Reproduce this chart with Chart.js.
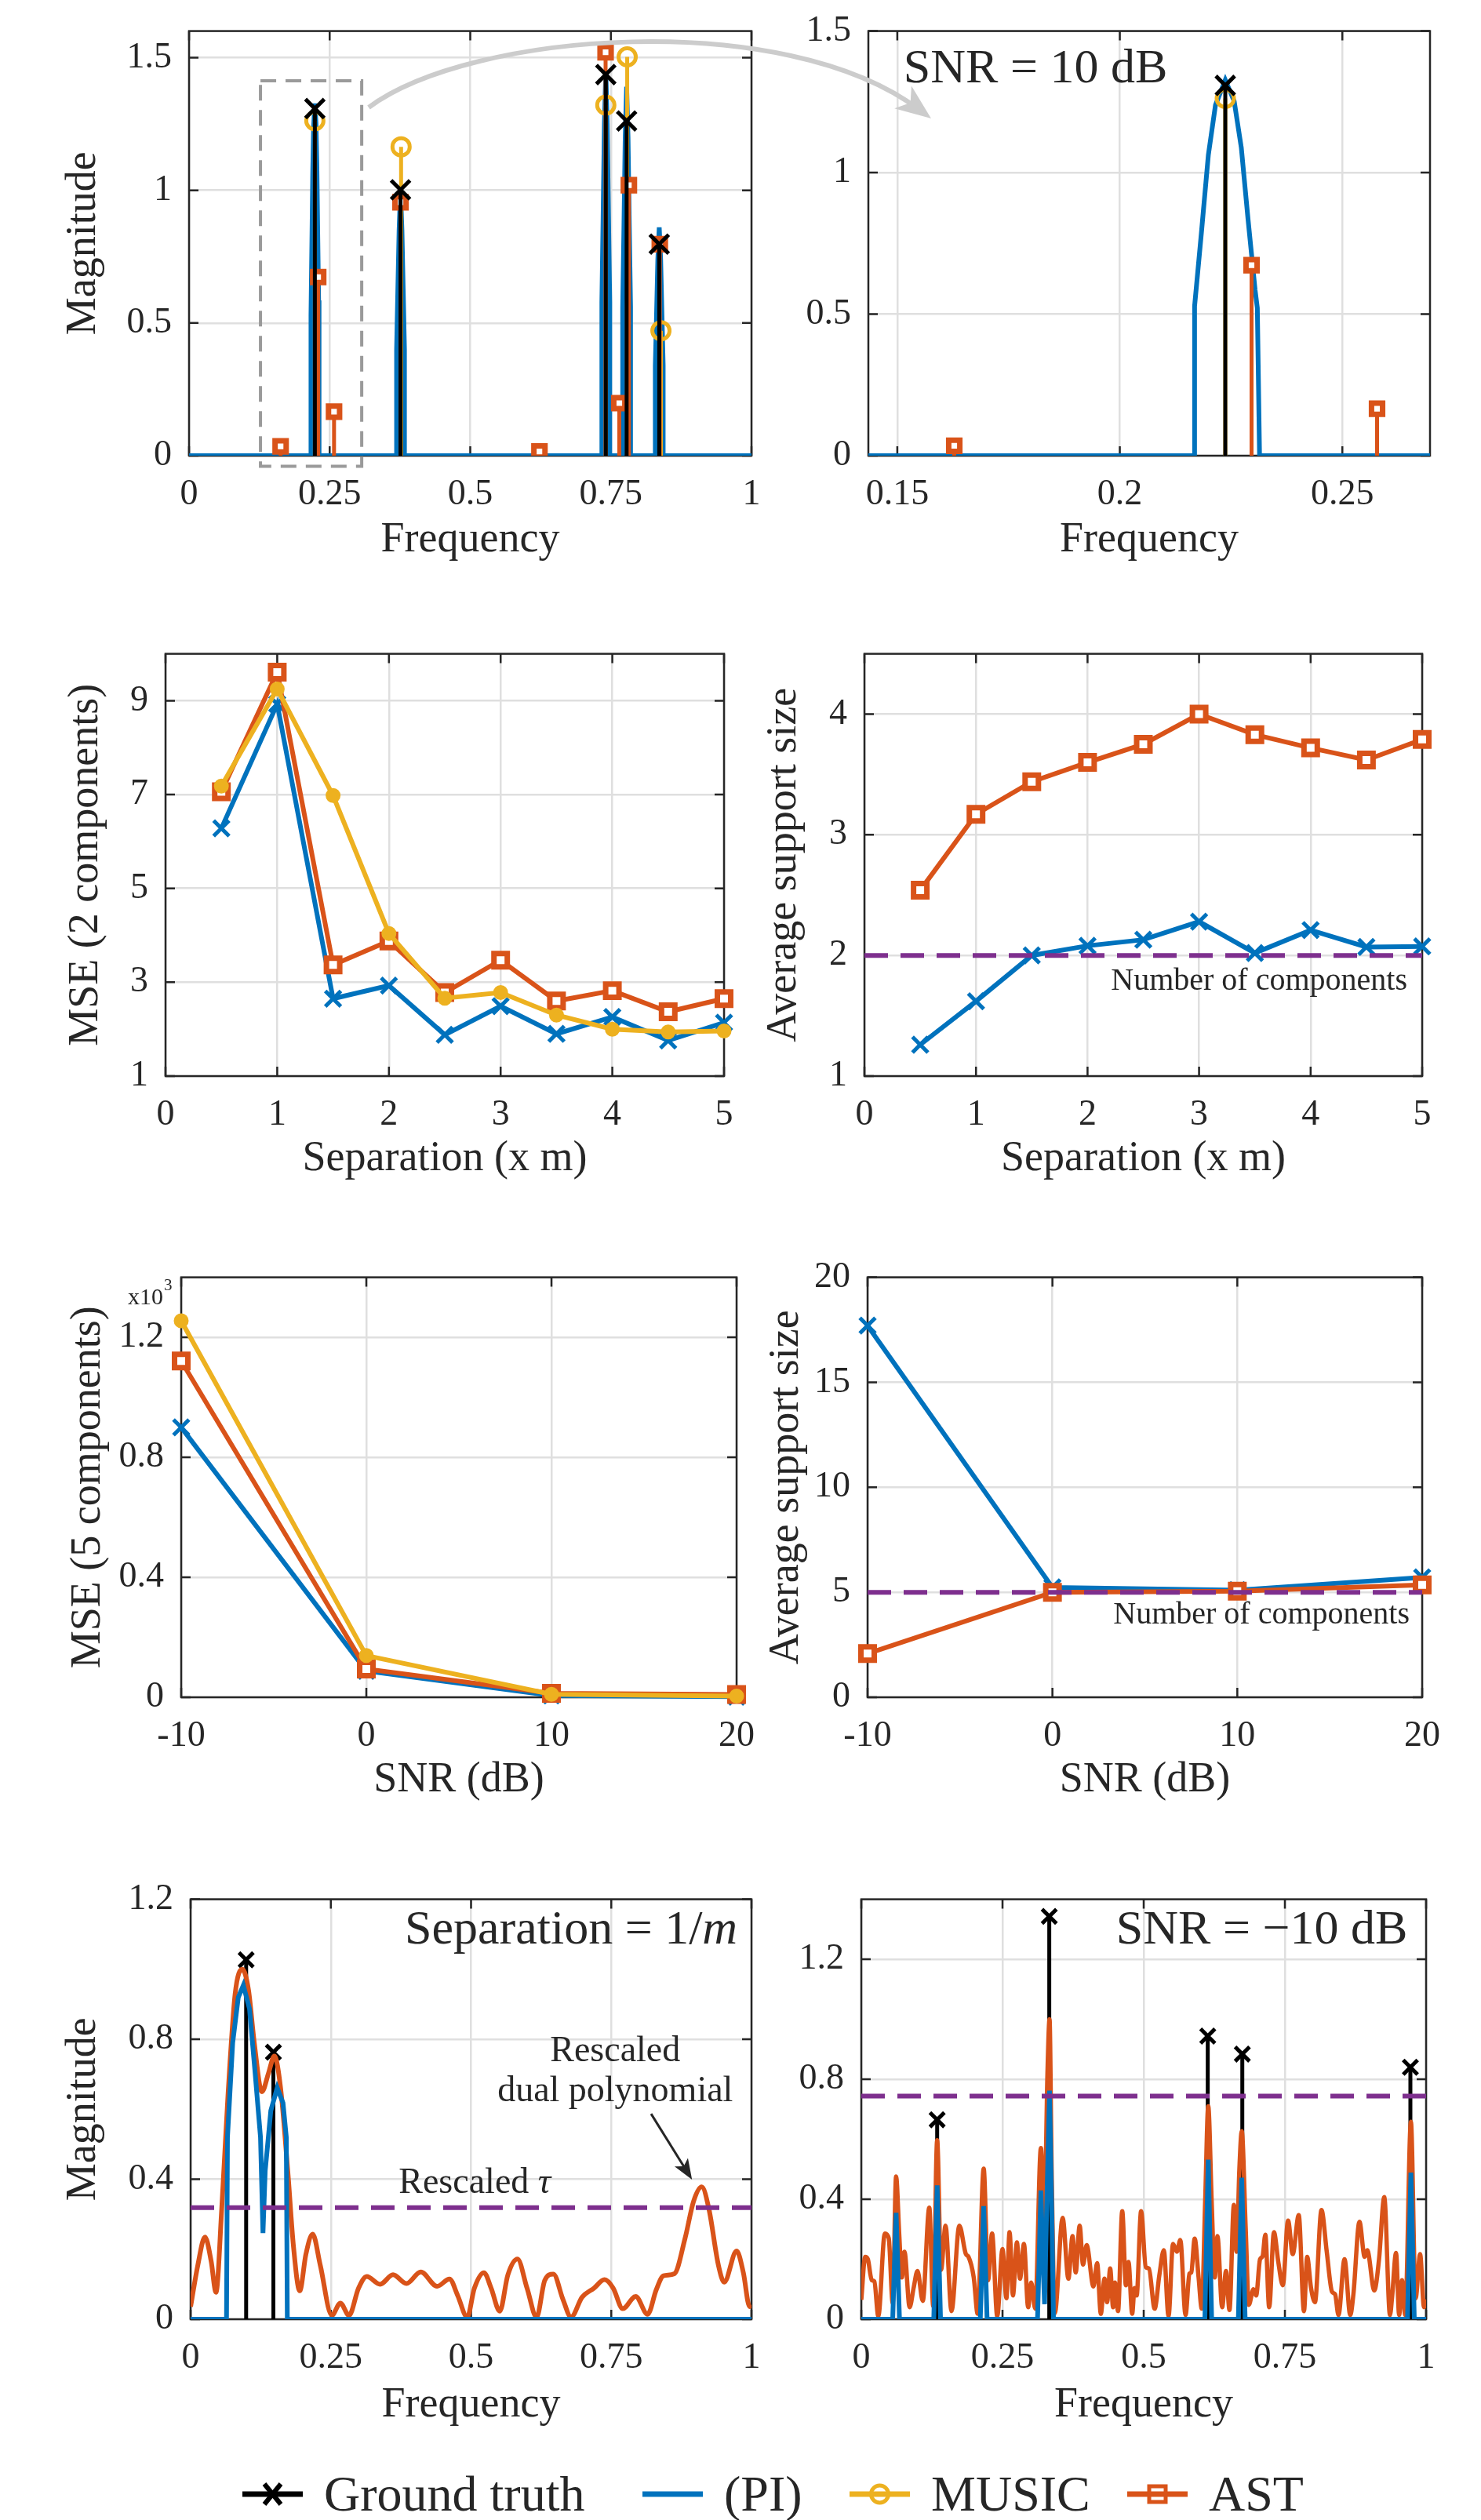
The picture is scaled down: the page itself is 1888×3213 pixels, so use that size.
<!DOCTYPE html>
<html>
<head>
<meta charset="utf-8">
<title>Line spectral estimation comparison</title>
<style>
    body { margin: 0; background: #fff; }
    #page { position: relative; width: 1888px; height: 3213px; overflow: hidden; background: #fff; }
    #page canvas { position: absolute; }
    #arc { left: 0; top: 0; z-index: 5; pointer-events: none; }
    .key { position: absolute; top: 3140px; height: 80px; display: flex; align-items: center;
           font-family: 'Liberation Serif', 'Times New Roman', serif; font-size: 64px; color: #262626; white-space: nowrap; }
    .key svg { margin-right: 27px; }
</style>
</head>
<body>
<div id="page">
    <canvas id="c1"></canvas>
    <canvas id="c2"></canvas>
    <canvas id="c3"></canvas>
    <canvas id="c4"></canvas>
    <canvas id="c5"></canvas>
    <canvas id="c6"></canvas>
    <canvas id="c7"></canvas>
    <canvas id="c8"></canvas>
    <canvas id="arc" width="1888" height="200"></canvas>

    <div class="key" style="left:309px">
        <svg width="77" height="40"><line x1="0" y1="20" x2="77" y2="20" stroke="#000" stroke-width="7"/>
            <line x1="28" y1="7" x2="49" y2="33" stroke="#000" stroke-width="6"/><line x1="28" y1="33" x2="49" y2="7" stroke="#000" stroke-width="6"/></svg>
        Ground truth</div>
    <div class="key" style="left:819px">
        <svg width="77" height="40"><line x1="0" y1="20" x2="77" y2="20" stroke="#0072BD" stroke-width="7"/></svg>
        (PI)</div>
    <div class="key" style="left:1083px">
        <svg width="77" height="40"><line x1="0" y1="20" x2="77" y2="20" stroke="#EDB120" stroke-width="7"/>
            <circle cx="38.5" cy="20" r="11" fill="none" stroke="#EDB120" stroke-width="5"/></svg>
        MUSIC</div>
    <div class="key" style="left:1437px">
        <svg width="77" height="40"><line x1="0" y1="20" x2="77" y2="20" stroke="#D95319" stroke-width="7"/>
            <rect x="28" y="10" width="21" height="20" fill="none" stroke="#D95319" stroke-width="5"/></svg>
        AST</div>
</div>

<script src="https://cdn.jsdelivr.net/npm/chart.js@4.4.1/dist/chart.umd.min.js"></script>
<script>
    // ---- data ----

    // SNR = 10 dB example (top row)
    const gtFreq = [0.2237, 0.376, 0.741, 0.778, 0.836];
    const gtMag = [1.308, 1.002, 1.436, 1.261, 0.797];
    const musicFreq = [0.2237, 0.377, 0.741, 0.779, 0.839];
    const musicMag = [1.262, 1.164, 1.321, 1.503, 0.471];
    const astFreq = [0.1628, 0.2296, 0.2578, 0.376, 0.623, 0.7406, 0.765, 0.782, 0.837];
    const astMag = [0.035, 0.673, 0.166, 0.955, 0.016, 1.52, 0.198, 1.019, 0.797];
    const piFreq10 = [0,
        0.2168, 0.2168, 0.2184, 0.2199, 0.2215, 0.2237, 0.2257, 0.2273, 0.2288, 0.2304, 0.2309, 0.2314,
        0.369, 0.369, 0.3712, 0.3735, 0.376, 0.3785, 0.3808, 0.383, 0.383,
        0.734, 0.734, 0.7362, 0.7385, 0.741, 0.7435, 0.7458, 0.748, 0.748,
        0.771, 0.771, 0.7732, 0.7755, 0.778, 0.7805, 0.7828, 0.785, 0.785,
        0.829, 0.829, 0.8312, 0.8335, 0.836, 0.8385, 0.8408, 0.843, 0.843,
        1];
    const piMag10 = [0,
        0, 0.528, 0.799, 1.063, 1.239, 1.327, 1.252, 1.088, 0.837, 0.585, 0.522, 0,
        0, 0.40, 0.62, 0.85, 1.0, 0.85, 0.62, 0.40, 0,
        0, 0.58, 0.9, 1.25, 1.45, 1.25, 0.9, 0.58, 0,
        0, 0.56, 0.86, 1.2, 1.39, 1.2, 0.86, 0.56, 0,
        0, 0.34, 0.53, 0.74, 0.86, 0.74, 0.53, 0.34, 0,
        0];

    // separation sweep (2 components)
    const sepVals = [0.5, 1, 1.5, 2, 2.5, 3, 3.5, 4, 4.5, 5];
    const msePI2 = [6.28, 8.93, 2.65, 2.93, 1.88, 2.49, 1.9, 2.26, 1.76, 2.14];
    const mseAST2 = [7.06, 9.61, 3.37, 3.88, 2.78, 3.47, 2.6, 2.82, 2.37, 2.65];
    const mseMUSIC2 = [7.18, 9.25, 6.98, 4.04, 2.66, 2.78, 2.3, 2.0, 1.94, 1.96];
    const supPIsep = [1.26, 1.62, 2.0, 2.08, 2.13, 2.28, 2.02, 2.21, 2.07, 2.075];
    const supASTsep = [2.54, 3.17, 3.44, 3.6, 3.75, 4.0, 3.83, 3.72, 3.62, 3.79];
    const nComp2 = 2;

    // SNR sweep (5 components), MSE in units of 10^3
    const snrVals = [-10, 0, 10, 20];
    const msePI5 = [0.9, 0.088, 0.006, 0.002];
    const mseAST5 = [1.121, 0.094, 0.013, 0.009];
    const mseMUSIC5 = [1.255, 0.139, 0.01, 0.004];
    const supPIsnr = [17.7, 5.23, 5.1, 5.71];
    const supASTsnr = [2.08, 5.0, 5.05, 5.35];
    const nComp5 = 5;

    // separation = 1/m example
    const gtFreqSep = [0.099, 0.1476];
    const gtMagSep = [1.027, 0.763];
    const piFreqSep = [0, 0.064, 0.0657, 0.075, 0.085, 0.094, 0.105, 0.115, 0.1246, 0.129, 0.133, 0.143, 0.1544, 0.1647, 0.1706, 0.1724, 1];
    const piMagSep = [0, 0, 0.52, 0.79, 0.92, 0.954, 0.887, 0.704, 0.52, 0.246, 0.424, 0.596, 0.661, 0.618, 0.52, 0, 0];
    const dualFreqSep = [0, 0.0128, 0.0256, 0.0367, 0.0452, 0.0555, 0.0666, 0.0794, 0.0922, 0.1032, 0.1135, 0.1271, 0.139, 0.1493,
        0.1604, 0.1732, 0.1834, 0.1945, 0.2056, 0.2176, 0.2312, 0.2517, 0.267, 0.2824, 0.2995, 0.314, 0.3379, 0.3609, 0.3848,
        0.4104, 0.4394, 0.4616, 0.4761, 0.4932, 0.506, 0.523, 0.5358, 0.5512, 0.5657, 0.5828, 0.5998, 0.6169, 0.6314, 0.6468,
        0.6638, 0.6783, 0.698, 0.7193, 0.738, 0.7534, 0.7705, 0.7935, 0.8148, 0.8302, 0.843, 0.8626, 0.8814, 0.8968, 0.9113,
        0.924, 0.9411, 0.9514, 0.9735, 0.9855, 0.9966, 1];
    const dualMagSep = [0.036, 0.154, 0.235, 0.165, 0.077, 0.316, 0.639, 0.93, 1.0, 0.941, 0.79, 0.65, 0.704, 0.752,
        0.661, 0.424, 0.208, 0.081, 0.186, 0.243, 0.154, 0.011, 0.046, 0.011, 0.089, 0.122, 0.1, 0.127, 0.102,
        0.135, 0.094, 0.115, 0.068, 0.006, 0.089, 0.133, 0.089, 0.023, 0.127, 0.172, 0.089, 0.006, 0.111, 0.129,
        0.057, 0.006, 0.063, 0.089, 0.113, 0.089, 0.03, 0.065, 0.014, 0.084, 0.124, 0.13, 0.23, 0.337, 0.378,
        0.316, 0.154, 0.106, 0.195, 0.133, 0.036, 0.04];
    const tauSep = 0.319;

    // SNR = -10 dB example
    const gtFreqNoisy = [0.1343, 0.3328, 0.6134, 0.6746, 0.9722];
    const gtMagNoisy = [0.665, 1.343, 0.944, 0.884, 0.84];
    const piFreqNoisy = [0, 0.0556, 0.0586, 0.0616, 0.0646, 0.0676, 0.1283, 0.1313, 0.1343, 0.1373, 0.1403,
        0.2107, 0.2137, 0.2167, 0.2197, 0.2227, 0.312, 0.315, 0.318, 0.3215, 0.3245, 0.328, 0.3333, 0.3373, 0.3403,
        0.6083, 0.6113, 0.6143, 0.6173, 0.6203, 0.6676, 0.6706, 0.6736, 0.6766, 0.6796,
        0.9671, 0.9701, 0.9731, 0.9761, 0.9791, 1];
    const piMagNoisy = [0, 0, 0.18, 0.355, 0.18, 0, 0, 0.22, 0.446, 0.22, 0,
        0, 0.19, 0.377, 0.19, 0, 0, 0.21, 0.429, 0.2, 0.05, 0.35, 0.762, 0.35, 0,
        0, 0.27, 0.532, 0.27, 0, 0, 0.24, 0.472, 0.24, 0,
        0, 0.25, 0.489, 0.25, 0, 0];
    const dualFreqNoisy = [0, 0.0069, 0.0116, 0.0185, 0.0231, 0.0301, 0.0417, 0.0486, 0.0556, 0.0616,
        0.0671, 0.0718, 0.0764, 0.0856, 0.0926, 0.0995, 0.1088, 0.1204, 0.1273, 0.1343,
        0.1412, 0.1491, 0.1597, 0.1736, 0.1852, 0.1898, 0.1991, 0.206, 0.2167, 0.2245,
        0.2315, 0.2407, 0.25, 0.2569, 0.2625, 0.2685, 0.2755, 0.281, 0.288, 0.2954,
        0.3009, 0.3079, 0.318, 0.3241, 0.3296, 0.3333, 0.337, 0.3426, 0.3565, 0.3667,
        0.374, 0.3796, 0.3866, 0.3926, 0.399, 0.4111, 0.4176, 0.4241, 0.4306, 0.4352,
        0.4407, 0.4458, 0.4491, 0.4546, 0.462, 0.4685, 0.4731, 0.4796, 0.4838, 0.4875,
        0.4954, 0.5037, 0.5093, 0.5194, 0.5278, 0.5356, 0.544, 0.5519, 0.5588, 0.5648,
        0.5741, 0.581, 0.5843, 0.5903, 0.5972, 0.6028, 0.6088, 0.6143, 0.6204, 0.6259,
        0.6306, 0.6389, 0.6458, 0.6519, 0.6597, 0.6644, 0.6694, 0.6736, 0.6806, 0.6861,
        0.6944, 0.6991, 0.706, 0.7106, 0.7153, 0.7222, 0.7306, 0.7384, 0.7463, 0.7556,
        0.7639, 0.7745, 0.7838, 0.7894, 0.7963, 0.8032, 0.8148, 0.8241, 0.8333, 0.8389,
        0.8449, 0.8556, 0.8657, 0.8713, 0.882, 0.8912, 0.8958, 0.9083, 0.9167, 0.9259,
        0.9361, 0.9398, 0.9468, 0.9523, 0.9574, 0.963, 0.9731, 0.9815, 0.9894, 0.9963, 1];
    const dualMagNoisy = [0.065, 0.208, 0.2, 0.13, 0.126, 0.01, 0.286, 0.27, 0.053, 0.476,
        0.286, 0.139, 0.225, 0.04, 0.104, 0.161, 0.061, 0.372, 0.044, 0.597,
        0.165, 0.312, 0.027, 0.312, 0.217, 0.208, 0.139, 0.018, 0.502, 0.13,
        0.286, 0.01, 0.234, 0.07, 0.29, 0.079, 0.256, 0.135, 0.251, 0.04,
        0.122, 0.035, 0.571, 0.338, 0.82, 1.0, 0.5, 0.02, 0.338, 0.135,
        0.277, 0.156, 0.312, 0.182, 0.247, 0.109, 0.187, 0.018, 0.135, 0.057,
        0.169, 0.04, 0.122, 0.027, 0.36, 0.113, 0.191, 0.018, 0.104, 0.079,
        0.36, 0.174, 0.169, 0.035, 0.148, 0.23, 0.01, 0.251, 0.225, 0.264,
        0.014, 0.152, 0.156, 0.269, 0.139, 0.035, 0.39, 0.71, 0.39, 0.139,
        0.277, 0.04, 0.161, 0.031, 0.381, 0.225, 0.5, 0.627, 0.303, 0.048,
        0.1, 0.079, 0.2, 0.21, 0.282, 0.04, 0.29, 0.19, 0.113, 0.329,
        0.217, 0.347, 0.027, 0.208, 0.104, 0.057, 0.364, 0.225, 0.092, 0.083,
        0.014, 0.2, 0.014, 0.083, 0.325, 0.208, 0.23, 0.096, 0.2, 0.407,
        0.014, 0.074, 0.221, 0.014, 0.13, 0.014, 0.658, 0.07, 0.217, 0.04, 0.066];
    const tauNoisy = 0.744;

    // tick labels
    const freqTicks = [0, 0.25, 0.5, 0.75, 1];
    const zoomTicks = [0.15, 0.2, 0.25];
    const magTicks = [0, 0.5, 1, 1.5];
    const sepTicks = [0, 1, 2, 3, 4, 5];
    const mse2Ticks = [1, 3, 5, 7, 9];
    const sup2Ticks = [1, 2, 3, 4];
    const snrTicks = [-10, 0, 10, 20];
    const mse5Ticks = [0, 0.4, 0.8, 1.2];
    const sup5Ticks = [0, 5, 10, 15, 20];
    const mag12Ticks = [0, 0.4, 0.8, 1.2];

    // ---- styling ----
    const FONT = "'Liberation Serif', 'Times New Roman', serif";
    const INK = '#262626';
    const BLUE = '#0072BD', ORANGE = '#D95319', YELLOW = '#EDB120', PURPLE = '#7E2F8E';
    const GRID = '#dfdfdf';
    const YW = 180, XH = 140, PT = 45, PR = 45;
    const TICK = 46, TITLE = 54;

    const pts = (xs, ys) => xs.map((x, i) => ({ x, y: ys[i] }));
    function stems(xs, ys) {
        const out = [];
        xs.forEach((x, i) => out.push({ x, y: 0 }, { x, y: ys[i] }, { x, y: null }));
        return out;
    }

    // titleDist: distance of the title centre from the axis line
    function axis(min, max, ticks, title, titleDist, isX) {
        const pad = (isX ? XH : YW) - titleDist - TITLE / 2;
        return {
            type: 'linear', min, max,
            afterBuildTicks: s => { s.ticks = ticks.map(v => ({ value: v })); },
            afterFit: s => { if (isX) s.height = XH; else s.width = YW; },
            ticks: {
                font: { family: FONT, size: TICK }, color: INK, padding: 22,
                maxRotation: 0, autoSkip: false,
                callback: v => String(Math.round(v * 1000) / 1000)
            },
            grid: { color: GRID, lineWidth: 2.5, drawTicks: false },
            border: { display: false },
            title: {
                display: !!title, text: title || '', color: INK,
                font: { family: FONT, size: TITLE, lineHeight: 1 },
                padding: isX ? { top: 0, bottom: pad } : { top: pad, bottom: 0 }
            }
        };
    }

    function lineSet(data, color, style, radius, extra) {
        return Object.assign({
            data, showLine: true, borderColor: color, backgroundColor: color, borderWidth: 6,
            pointStyle: style, pointRadius: radius, pointBorderWidth: 5,
            pointBorderColor: color, pointBackgroundColor: color, clip: false
        }, extra || {});
    }
    const openSquare = { pointBackgroundColor: '#fff', pointBorderWidth: 7 };
    function curveSet(xs, ys, color, width, extra) {
        return Object.assign({
            data: pts(xs, ys), showLine: true, borderColor: color, borderWidth: width, pointRadius: 0
        }, extra || {});
    }
    function stemSet(xs, ys, color, style, radius, fill, width, markerWidth) {
        return {
            data: stems(xs, ys), showLine: true, spanGaps: false, borderColor: color, borderWidth: width,
            pointStyle: style, pointRadius: c => (c.dataIndex % 3 === 1 ? radius : 0),
            pointBorderColor: color, pointBorderWidth: markerWidth || 5, pointBackgroundColor: fill
        };
    }
    function hline(x0, x1, y) {
        return { data: [{ x: x0, y }, { x: x1, y }], showLine: true, borderColor: PURPLE, borderWidth: 6,
                 borderDash: [30, 16], pointRadius: 0 };
    }

    // axes box with inward ticks, MATLAB style
    const boxPlugin = {
        id: 'box',
        beforeDatasetsDraw(chart) {
            const { ctx, chartArea: a, scales: { x, y } } = chart;
            ctx.save();
            ctx.strokeStyle = INK;
            ctx.lineWidth = 2.5;
            ctx.strokeRect(a.left, a.top, a.right - a.left, a.bottom - a.top);
            const t = 12;
            ctx.beginPath();
            x.ticks.forEach(tk => {
                const p = x.getPixelForValue(tk.value);
                ctx.moveTo(p, a.bottom); ctx.lineTo(p, a.bottom - t);
                ctx.moveTo(p, a.top); ctx.lineTo(p, a.top + t);
            });
            y.ticks.forEach(tk => {
                const p = y.getPixelForValue(tk.value);
                ctx.moveTo(a.left, p); ctx.lineTo(a.left + t, p);
                ctx.moveTo(a.right, p); ctx.lineTo(a.right - t, p);
            });
            ctx.stroke();
            ctx.restore();
        }
    };

    // text notes placed in data coordinates; parts let us mix upright and italic
    function notes(list) {
        return {
            id: 'notes',
            afterDraw(chart) {
                const { ctx, scales: { x, y } } = chart;
                ctx.save();
                ctx.fillStyle = INK;
                ctx.textBaseline = 'middle';
                ctx.textAlign = 'left';
                list.forEach(n => {
                    const parts = n.parts || [{ text: n.text, font: n.font }];
                    let w = 0;
                    parts.forEach(p => { ctx.font = p.font; w += ctx.measureText(p.text).width; });
                    let px = x.getPixelForValue(n.x);
                    if (n.align === 'right') px -= w;
                    if (n.align === 'center') px -= w / 2;
                    const py = y.getPixelForValue(n.y);
                    parts.forEach(p => { ctx.font = p.font; ctx.fillText(p.text, px, py); px += ctx.measureText(p.text).width; });
                });
                ctx.restore();
            }
        };
    }

    function makeChart(id, rect, datasets, xAxis, yAxis, extra) {
        const [L, T, R, B] = rect;
        const cv = document.getElementById(id);
        cv.width = YW + (R - L) + PR;
        cv.height = PT + (B - T) + XH;
        cv.style.left = (L - YW) + 'px';
        cv.style.top = (T - PT) + 'px';
        return new Chart(cv, {
            type: 'scatter',
            data: { datasets },
            options: {
                responsive: false, animation: false, events: [],
                layout: { padding: { left: 0, top: PT, right: PR, bottom: 0 } },
                plugins: { legend: { display: false }, tooltip: { enabled: false } },
                scales: { x: xAxis, y: yAxis }
            },
            plugins: [boxPlugin].concat(extra || [])
        });
    }

    const noteFont = s => s + 'px ' + FONT;
    const italic = s => 'italic ' + s + 'px ' + FONT;

    // --- top left: full spectrum, SNR 10 dB ---
    const zoomBox = { x0: 0.127, x1: 0.307, y0: -0.04, y1: 1.413 };
    const tenDbSets = () => [
        stemSet(gtFreq, gtMag, '#000', 'crossRot', 17, '#000', 5),
        stemSet(astFreq, astMag, ORANGE, 'rect', 10, '#fff', 5, 7),
        stemSet(musicFreq, musicMag, YELLOW, 'circle', 11, 'rgba(0,0,0,0)', 5),
        curveSet(piFreq10, piMag10, BLUE, 6)
    ];
    makeChart('c1', [241, 35, 958, 581], tenDbSets(),
        axis(0, 1, freqTicks, 'Frequency', 108, true),
        axis(0, 1.6, magTicks, 'Magnitude', 134, false),
        [{
            id: 'zoomBox',
            afterDraw(chart) {
                const { ctx, scales: { x, y } } = chart;
                const l = x.getPixelForValue(zoomBox.x0), r = x.getPixelForValue(zoomBox.x1);
                const t = y.getPixelForValue(zoomBox.y1), b = y.getPixelForValue(zoomBox.y0);
                ctx.save();
                ctx.strokeStyle = '#9a9a9a'; ctx.lineWidth = 4; ctx.setLineDash([20, 12]);
                ctx.strokeRect(l, t, r - l, b - t);
                ctx.restore();
            }
        }]);

    // --- top right: zoom on first component ---
    makeChart('c2', [1107, 35, 1823, 581], tenDbSets(),
        axis(0.1435, 0.2697, zoomTicks, 'Frequency', 108, true),
        axis(0, 1.5, magTicks, '', 0, false),
        [notes([{ x: 0.1514, y: 1.363, text: 'SNR = 10 dB', font: noteFont(62) }])]);

    // --- MSE vs separation ---
    makeChart('c3', [211, 829, 923, 1372], [
            lineSet(pts(sepVals, mseMUSIC2), YELLOW, 'circle', 7),
            lineSet(pts(sepVals, mseAST2), ORANGE, 'rect', 12, openSquare),
            lineSet(pts(sepVals, msePI2), BLUE, 'crossRot', 14)
        ],
        axis(0, 5, sepTicks, 'Separation (x m)', 106, true),
        axis(1, 10, mse2Ticks, 'MSE (2 components)', 101, false));

    // --- support size vs separation ---
    makeChart('c4', [1102, 829, 1813, 1372], [
            hline(0, 5, nComp2),
            lineSet(pts(sepVals, supASTsep), ORANGE, 'rect', 12, openSquare),
            lineSet(pts(sepVals, supPIsep), BLUE, 'crossRot', 14)
        ],
        axis(0, 5, sepTicks, 'Separation (x m)', 106, true),
        axis(1, 4.5, sup2Ticks, 'Average support size', 102, false),
        [notes([{ x: 4.866, y: 1.786, align: 'right', text: 'Number of components', font: noteFont(40) }])]);

    // --- MSE vs SNR ---
    makeChart('c5', [231, 1624, 939, 2164], [
            lineSet(pts(snrVals, mseMUSIC5), YELLOW, 'circle', 7),
            lineSet(pts(snrVals, mseAST5), ORANGE, 'rect', 12, openSquare),
            lineSet(pts(snrVals, msePI5), BLUE, 'crossRot', 14)
        ],
        axis(-10, 20, snrTicks, 'SNR (dB)', 106, true),
        axis(0, 1.4, mse5Ticks, 'MSE (5 components)', 118, false),
        [{
            id: 'expo',
            afterDraw(chart) {
                const { ctx, chartArea: a } = chart;
                ctx.save();
                ctx.fillStyle = INK; ctx.textBaseline = 'middle'; ctx.textAlign = 'left';
                ctx.font = noteFont(30);
                ctx.fillText('x10', a.left - 68, a.top + 27);
                const w = ctx.measureText('x10').width;
                ctx.font = noteFont(21);
                ctx.fillText('3', a.left - 68 + w + 1, a.top + 11);
                ctx.restore();
            }
        }]);

    // --- support size vs SNR ---
    makeChart('c6', [1106, 1624, 1813, 2164], [
            hline(-10, 20, nComp5),
            lineSet(pts(snrVals, supASTsnr), ORANGE, 'rect', 12, openSquare),
            lineSet(pts(snrVals, supPIsnr), BLUE, 'crossRot', 14)
        ],
        axis(-10, 20, snrTicks, 'SNR (dB)', 106, true),
        axis(0, 20, sup5Ticks, 'Average support size', 103, false),
        [notes([{ x: 19.32, y: 3.89, align: 'right', text: 'Number of components', font: noteFont(40) }])]);

    // --- separation = 1/m example ---
    const arrowSep = { x0: 0.821, y0: 0.587, x1: 0.894, y1: 0.399 };
    makeChart('c7', [243, 2417, 958, 2957], [
            hline(0, 1, tauSep),
            curveSet(piFreqSep, piMagSep, BLUE, 6),
            curveSet(dualFreqSep, dualMagSep, ORANGE, 6, { cubicInterpolationMode: 'monotone' }),
            stemSet(gtFreqSep, gtMagSep, '#000', 'crossRot', 13, '#000', 5)
        ],
        axis(0, 1, freqTicks, 'Frequency', 110, true),
        axis(0, 1.2, mag12Ticks, 'Magnitude', 136, false),
        [notes([
            { x: 0.975, y: 1.109, align: 'right', parts: [{ text: 'Separation = 1/', font: noteFont(62) }, { text: 'm', font: italic(62) }] },
            { x: 0.371, y: 0.389, parts: [{ text: 'Rescaled ', font: noteFont(46) }, { text: 'τ', font: italic(46) }] },
            { x: 0.757, y: 0.764, align: 'center', text: 'Rescaled', font: noteFont(46) },
            { x: 0.757, y: 0.651, align: 'center', text: 'dual polynomial', font: noteFont(46) }
        ]), {
            id: 'arrow',
            afterDraw(chart) {
                const { ctx, scales: { x, y } } = chart;
                const ax = x.getPixelForValue(arrowSep.x0), ay = y.getPixelForValue(arrowSep.y0);
                const bx = x.getPixelForValue(arrowSep.x1), by = y.getPixelForValue(arrowSep.y1);
                const len = Math.hypot(bx - ax, by - ay), ux = (bx - ax) / len, uy = (by - ay) / len;
                ctx.save();
                ctx.strokeStyle = INK; ctx.fillStyle = INK; ctx.lineWidth = 3;
                ctx.beginPath(); ctx.moveTo(ax, ay); ctx.lineTo(bx - ux * 18, by - uy * 18); ctx.stroke();
                ctx.beginPath();
                ctx.moveTo(bx, by);
                ctx.lineTo(bx - ux * 26 - uy * 10, by - uy * 26 + ux * 10);
                ctx.lineTo(bx - ux * 20, by - uy * 20);
                ctx.lineTo(bx - ux * 26 + uy * 10, by - uy * 26 - ux * 10);
                ctx.closePath(); ctx.fill();
                ctx.restore();
            }
        }]);

    // --- SNR = -10 dB example ---
    makeChart('c8', [1098, 2417, 1818, 2957], [
            hline(0, 1, tauNoisy),
            curveSet(piFreqNoisy, piMagNoisy, BLUE, 6),
            curveSet(dualFreqNoisy, dualMagNoisy, ORANGE, 5.5, { cubicInterpolationMode: 'monotone' }),
            stemSet(gtFreqNoisy, gtMagNoisy, '#000', 'crossRot', 13, '#000', 5)
        ],
        axis(0, 1, freqTicks, 'Frequency', 110, true),
        axis(0, 1.4, mag12Ticks, '', 0, false),
        [notes([{ x: 0.967, y: 1.294, align: 'right', text: 'SNR = \u221210 dB', font: noteFont(62) }])]);

    // gray curved arrow linking the zoom box to the zoomed panel
    const g = document.getElementById('arc').getContext('2d');
    g.strokeStyle = '#cccccc';
    g.fillStyle = '#cccccc';
    g.lineWidth = 6;
    g.beginPath();
    g.moveTo(470, 137);
    g.bezierCurveTo(600, 40, 1000, 10, 1172, 140);
    g.stroke();
    const tip = [1187, 151], dir = [0.798, 0.603], nrm = [-0.603, 0.798];
    g.beginPath();
    g.moveTo(tip[0], tip[1]);
    g.lineTo(tip[0] - 45 * dir[0] + 18 * nrm[0], tip[1] - 45 * dir[1] + 18 * nrm[1]);
    g.lineTo(tip[0] - 33 * dir[0], tip[1] - 33 * dir[1]);
    g.lineTo(tip[0] - 45 * dir[0] - 18 * nrm[0], tip[1] - 45 * dir[1] - 18 * nrm[1]);
    g.closePath();
    g.fill();
</script>
</body>
</html>
